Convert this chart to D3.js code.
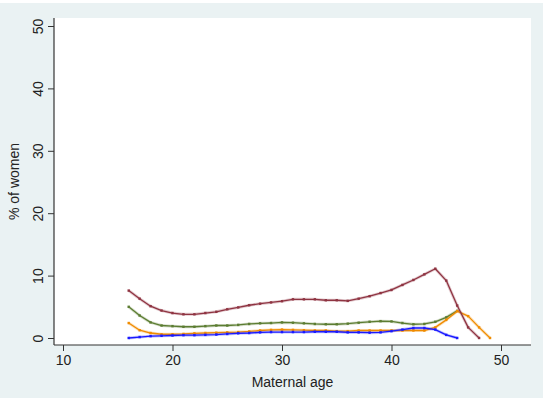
<!DOCTYPE html>
<html>
<head>
<meta charset="utf-8">
<script src="https://cdn.jsdelivr.net/npm/d3@7"></script>
<style>
  body { margin: 0; background: #fff; }
  svg { display: block; font-family: "Liberation Sans", Arial, sans-serif; }
</style>
</head>
<body>
<svg id="chart"></svg>
<script>
const width = 543, height = 398;
const margin = { top: 18, right: 12, bottom: 53, left: 54 };

const xTicks = [10, 20, 30, 40, 50];
const yTicks = [0, 10, 20, 30, 40, 50];

// % of women by maternal age, four series
const maroonAges = d3.range(16, 49);
const maroonVals = [7.6, 6.3, 5.1, 4.4, 4.0, 3.8, 3.8, 4.0, 4.2, 4.6, 4.9, 5.25, 5.5, 5.7, 5.9, 6.2, 6.2,
    6.2, 6.05, 6.05, 5.95, 6.3, 6.7, 7.2, 7.7, 8.5, 9.3, 10.2, 11.1, 9.2, 5.2, 1.7, 0];

const greenAges = d3.range(16, 47);
const greenVals = [5.0, 3.6, 2.5, 2.0, 1.9, 1.8, 1.8, 1.9, 2.0, 2.0, 2.1, 2.25, 2.35, 2.4, 2.5, 2.45,
    2.35, 2.25, 2.2, 2.2, 2.3, 2.45, 2.6, 2.7, 2.65, 2.4, 2.2, 2.25, 2.6, 3.3, 4.35];

const orangeAges = d3.range(16, 50);
const orangeVals = [2.4, 1.25, 0.8, 0.6, 0.6, 0.65, 0.75, 0.8, 0.85, 0.9, 0.95, 1.05, 1.2, 1.3, 1.35, 1.3,
    1.25, 1.2, 1.2, 1.1, 1.1, 1.2, 1.2, 1.2, 1.2, 1.2, 1.2, 1.2, 1.7, 2.9, 4.3, 3.5, 1.7, 0];

const blueAges = d3.range(16, 47);
const blueVals = [0, 0.15, 0.3, 0.35, 0.4, 0.45, 0.45, 0.5, 0.55, 0.65, 0.75, 0.8, 0.9, 0.95, 0.95, 0.95,
    0.95, 1.0, 1.0, 1.0, 0.9, 0.9, 0.85, 0.9, 1.1, 1.35, 1.6, 1.6, 1.35, 0.5, 0];

const series = [
    { ages: greenAges, vals: greenVals, color: "#5c7d32" },
    { ages: orangeAges, vals: orangeVals, color: "#f08c00" },
    { ages: blueAges, vals: blueVals, color: "#1a1aff" },
    { ages: maroonAges, vals: maroonVals, color: "#8f3442" }
];

const svg = d3.select("#chart").attr("width", width).attr("height", height);

// graph background (Stata style)
svg.append("rect").attr("x", 0).attr("y", 3).attr("width", width).attr("height", height - 3)
    .attr("fill", "#eaf2f3");
svg.append("rect")
    .attr("x", margin.left).attr("y", margin.top)
    .attr("width", width - margin.left - margin.right)
    .attr("height", height - margin.top - margin.bottom)
    .attr("fill", "#fff");

const x = d3.scaleLinear().domain([10, 50]).range([63, 501]);
const y = d3.scaleLinear().domain([0, 50]).range([338, 26]);

const line = d3.line().x(d => x(d[0])).y(d => y(d[1]));

series.forEach(s => {
    const pts = s.ages.map((a, i) => [a, s.vals[i]]);
    svg.append("path").datum(pts)
        .attr("d", line).attr("fill", "none")
        .attr("stroke", s.color).attr("stroke-width", 3).attr("stroke-opacity", 0.25)
        .attr("stroke-linejoin", "round");
    svg.append("path").datum(pts)
        .attr("d", line).attr("fill", "none")
        .attr("stroke", s.color).attr("stroke-width", 1.3)
        .attr("stroke-linejoin", "round");
    svg.selectAll(null).data(pts).join("rect")
        .attr("x", d => x(d[0]) - 1.2).attr("y", d => y(d[1]) - 1.2)
        .attr("width", 2.4).attr("height", 2.4)
        .attr("fill", s.color);
});

// axes
const axisColor = "#333";
const xAxis = svg.append("g").attr("transform", `translate(0,${height - margin.bottom})`)
    .call(d3.axisBottom(x).tickValues(xTicks).tickSize(6).tickPadding(4));
xAxis.select(".domain").attr("d", `M${margin.left},0H${width - margin.right}`)
    .attr("stroke", axisColor).attr("stroke-width", 1.2);
xAxis.selectAll(".tick line").attr("stroke", axisColor);
xAxis.selectAll(".tick text").attr("fill", "#222").style("font-size", "14px");

const yAxis = svg.append("g").attr("transform", `translate(${margin.left},0)`)
    .call(d3.axisLeft(y).tickValues(yTicks).tickSize(6));
yAxis.select(".domain").attr("d", `M0,${margin.top}V${height - margin.bottom}`)
    .attr("stroke", axisColor).attr("stroke-width", 1.2);
yAxis.selectAll(".tick line").attr("stroke", axisColor);
yAxis.selectAll(".tick text")
    .attr("x", 0).attr("dy", null)
    .attr("transform", "translate(-16,0) rotate(-90)")
    .attr("text-anchor", "middle").attr("dominant-baseline", "central")
    .attr("fill", "#222").style("font-size", "14px");

// titles
svg.append("text")
    .attr("x", (margin.left + width - margin.right) / 2).attr("y", 387)
    .attr("text-anchor", "middle").attr("fill", "#222").style("font-size", "14px")
    .text("Maternal age");
svg.append("text")
    .attr("transform", `translate(19,${(margin.top + height - margin.bottom) / 2}) rotate(-90)`)
    .attr("text-anchor", "middle").attr("fill", "#222").style("font-size", "14px")
    .text("% of women");
</script>
</body>
</html>
